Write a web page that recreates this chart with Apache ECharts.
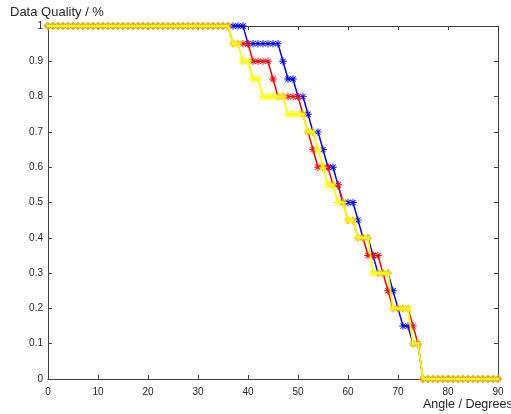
<!DOCTYPE html>
<html>
<head>
<meta charset="utf-8">
<script src="https://cdn.jsdelivr.net/npm/echarts@6/dist/echarts.min.js"></script>
<style>
html,body{margin:0;padding:0;background:#fff;}
#c{width:511px;height:414px;}
</style>
</head>
<body>
<div id="c"></div>
<script>
// Angle (degrees) sampled at every integer
const angles = [0,1,2,3,4,5,6,7,8,9,10,11,12,13,14,15,16,17,18,19,20,21,22,23,24,25,26,27,28,29,30,31,32,33,34,35,36,37,38,39,40,41,42,43,44,45,46,47,48,49,50,51,52,53,54,55,56,57,58,59,60,61,62,63,64,65,66,67,68,69,70,71,72,73,74,75,76,77,78,79,80,81,82,83,84,85,86,87,88,89,90];

const blueValues = [1,1,1,1,1,1,1,1,1,1,1,1,1,1,1,1,1,1,1,1,1,1,1,1,1,1,1,1,1,1,1,1,1,1,1,1,1,1,1,1,
  0.95,0.95,0.95,0.95,0.95,0.95,0.95,0.9,0.85,0.85,0.8,0.8,0.75,0.7,0.7,0.65,0.6,0.6,0.55,0.5,0.5,0.5,
  0.45,0.4,0.4,0.35,0.3,0.3,0.3,0.25,0.2,0.15,0.15,0.1,0.1,
  0,0,0,0,0,0,0,0,0,0,0,0,0,0,0,0];

const redValues = [1,1,1,1,1,1,1,1,1,1,1,1,1,1,1,1,1,1,1,1,1,1,1,1,1,1,1,1,1,1,1,1,1,1,1,1,1,
  0.95,0.95,0.95,0.95,0.9,0.9,0.9,0.9,0.85,0.8,0.8,0.8,0.8,0.8,0.75,0.7,0.65,0.6,0.6,0.6,0.55,0.55,0.5,
  0.45,0.45,0.4,0.4,0.35,0.35,0.35,0.3,0.25,0.2,0.2,0.2,0.2,0.15,0.1,
  0,0,0,0,0,0,0,0,0,0,0,0,0,0,0,0];

const yellowValues = [1,1,1,1,1,1,1,1,1,1,1,1,1,1,1,1,1,1,1,1,1,1,1,1,1,1,1,1,1,1,1,1,1,1,1,1,1,
  0.95,0.95,0.9,0.9,0.85,0.85,0.8,0.8,0.8,0.8,0.8,0.75,0.75,0.75,0.75,0.7,0.7,0.65,0.6,0.55,0.55,0.5,0.5,
  0.45,0.45,0.4,0.4,0.4,0.3,0.3,0.3,0.3,0.2,0.2,0.2,0.2,0.1,0.1,
  0,0,0,0,0,0,0,0,0,0,0,0,0,0,0,0];

const xTicks = [0,10,20,30,40,50,60,70,80,90];
const yTicks = [0,0.1,0.2,0.3,0.4,0.5,0.6,0.7,0.8,0.9,1];

const xTitle = 'Angle / Degrees';
const yTitle = 'Data Quality / %';

// filled asterisk: vertical, horizontal and two diagonal arms
const star = 'path://M4.4,0L5.6,0L5.6,10L4.4,10Z' +
  'M0,4.4L10,4.4L10,5.6L0,5.6Z' +
  'M1.1,1.9L1.9,1.1L8.9,8.1L8.1,8.9Z' +
  'M1.1,8.1L8.1,1.1L8.9,1.9L1.9,8.9Z';
const axisColor = '#404040';
const textColor = '#262626';
const font = 'Liberation Sans, Arial, sans-serif';

function pairs(vals){ return angles.map((a,i)=>[a, vals[i]]); }

function mkSeries(vals, color, z, lw, size){
  return {
    type:'line', data: pairs(vals), z: z,
    symbol: star, symbolSize: size, showAllSymbol: true,
    clip: false, animation:false,
    lineStyle:{color:color, width:lw},
    itemStyle:{color:color, borderWidth:0, opacity:1},
    emphasis:{disabled:true}
  };
}

const chart = echarts.init(document.getElementById('c'), null, {renderer:'canvas'});
const axBase = {
  axisLine:{show:true, onZero:false, lineStyle:{color:axisColor, width:1}},
  axisTick:{show:true, inside:true, length:4, lineStyle:{color:axisColor}},
  splitLine:{show:false}
};
chart.setOption({
  animation:false,
  backgroundColor:'#fff',
  grid:{left:48, right:13, top:26, bottom:35, containLabel:false},
  xAxis:[
    Object.assign({type:'value', min:xTicks[0], max:xTicks[xTicks.length-1], interval:10, position:'bottom',
      axisLabel:{color:textColor, fontSize:10, fontFamily:font, margin:8}}, axBase),
    Object.assign({type:'value', min:xTicks[0], max:xTicks[xTicks.length-1], interval:10, position:'top',
      axisLabel:{show:false}}, axBase)
  ],
  yAxis:[
    Object.assign({type:'value', min:yTicks[0], max:yTicks[yTicks.length-1], interval:0.1, position:'left',
      axisLabel:{color:textColor, fontSize:10, fontFamily:font, margin:5,
        formatter:v=>String(Math.round(v*10)/10)}}, axBase),
    Object.assign({type:'value', min:yTicks[0], max:yTicks[yTicks.length-1], interval:0.1, position:'right',
      axisLabel:{show:false}}, axBase)
  ],
  graphic:[
    {type:'text', left:10, top:6, style:{text:yTitle, fill:textColor, font:'13px '+font}},
    {type:'text', left:423, top:398, style:{text:xTitle, fill:textColor, font:'12.5px '+font}}
  ],
  series:[
    mkSeries(blueValues,'#0000ff',2,1.5,7.5),
    mkSeries(redValues,'#ff0000',3,1.5,7.5),
    mkSeries(yellowValues,'#ffff00',4,1.8,8.5)
  ]
});
</script>
</body>
</html>
